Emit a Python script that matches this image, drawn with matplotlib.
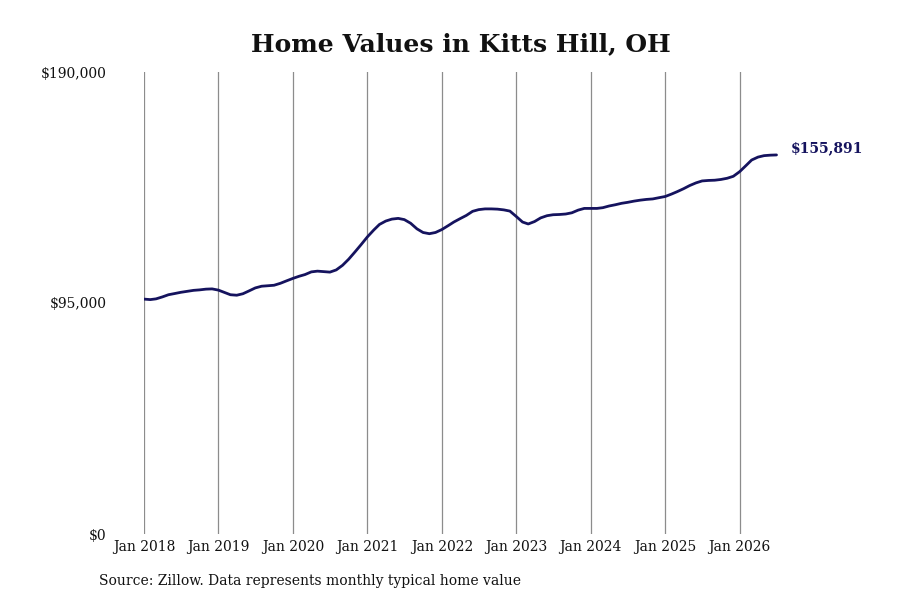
"""Home value trend for Kitts Hill, OH (Zillow typical home value)."""

import matplotlib

matplotlib.use("Agg")
import matplotlib.pyplot as plt
import pandas as pd

START_MONTH = "2018-01-01"

# monthly typical home value, Jan 2018 .. Jul 2026
HOME_VALUES = [
    96600, 96400, 96700, 97500, 98400, 98900, 99400, 99800, 100200, 100400, 100700, 100800,
    100300, 99300, 98400, 98200, 98800, 100000, 101200, 101900, 102100, 102300, 103100, 104100,
    105100, 106000, 106700, 107800, 108100, 107900, 107700, 108600, 110500, 113000, 116000, 119000,
    122200, 125000, 127300, 128700, 129500, 129800, 129300, 127800, 125500, 124000, 123500, 124000,
    125200, 126800, 128300, 129700, 131000, 132700, 133400, 133700, 133700, 133600, 133300, 132800,
    130600, 128300, 127500, 128500, 130000, 130900, 131300, 131400, 131600, 132100, 133200, 133900,
    133900, 133900, 134200, 134900, 135400, 136000, 136400, 136900, 137300, 137600, 137800, 138300,
    138800, 139800, 140800, 142000, 143300, 144400, 145200, 145400, 145500, 145800, 146300, 147100,
    149000, 151500, 153800, 155000, 155600, 155800, 155891,
]

Y_TICKS = [0, 95000, 190000]
Y_TICK_LABELS = ["$0", "$95,000", "$190,000"]
X_TICK_YEARS = [2018, 2019, 2020, 2021, 2022, 2023, 2024, 2025, 2026]

LINE_COLOR = "#15135e"


def main() -> None:
    plt.rcParams["font.family"] = ["DejaVu Serif"]

    dates = pd.date_range(START_MONTH, periods=len(HOME_VALUES), freq="MS")
    tick_dates = [pd.Timestamp(year=y, month=1, day=1) for y in X_TICK_YEARS]

    fig = plt.figure(figsize=(9, 6), dpi=100)
    ax = fig.add_axes([0.16, 0.11, 0.72, 0.77])

    ax.plot(dates, HOME_VALUES, color=LINE_COLOR, linewidth=2.0, solid_capstyle="round")

    ax.set_ylim(0, 190000)
    ax.set_xlim(pd.Timestamp("2018-01-01"), pd.Timestamp("2026-09-15"))
    ax.set_yticks(Y_TICKS)
    ax.set_yticklabels(Y_TICK_LABELS)
    ax.set_xticks(tick_dates)
    ax.set_xticklabels([f"Jan {y}" for y in X_TICK_YEARS])
    ax.tick_params(axis="both", length=0, labelsize=10, colors="#111111")
    ax.tick_params(axis="y", pad=27)
    ax.tick_params(axis="x", pad=4)

    ax.grid(axis="x", color="#8c8c8c", linewidth=0.9)
    ax.set_axisbelow(True)
    for spine in ax.spines.values():
        spine.set_visible(False)

    ax.annotate(
        f"${HOME_VALUES[-1]:,}",
        xy=(dates[-1], HOME_VALUES[-1]),
        xytext=(10, 4.5),
        textcoords="offset points",
        va="center",
        ha="left",
        fontsize=10,
        fontweight="bold",
        color=LINE_COLOR,
        annotation_clip=False,
    )

    fig.text(0.512, 0.927, "Home Values in Kitts Hill, OH", ha="center", va="center",
             fontsize=18, fontweight="bold", color="#111111")
    fig.text(0.11, 0.031, "Source: Zillow. Data represents monthly typical home value",
             ha="left", va="center", fontsize=10, color="#111111")

    fig.savefig("out.png", dpi=100)
    plt.close(fig)


if __name__ == "__main__":
    main()
